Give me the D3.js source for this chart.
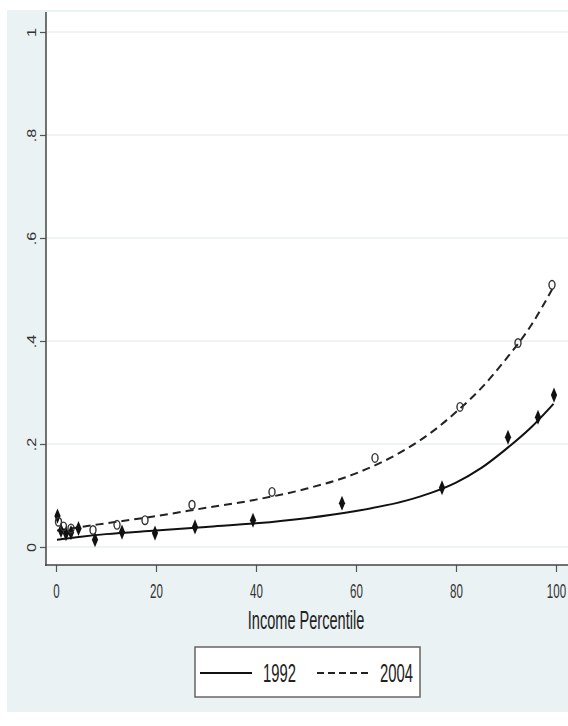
<!DOCTYPE html>
<html><head><meta charset="utf-8">
<script src="https://cdn.jsdelivr.net/npm/d3@7"></script>
<style>body{margin:0;background:#fff}svg{display:block}</style>
</head><body>
<svg id="c" width="568" height="726"></svg>
<script>
// ---- data ----
const pts1992X = [0.3, 1, 2, 3, 4.5, 7.8, 13.2, 19.8, 27.8, 39.4, 57.2, 77.2, 90.4, 96.4, 99.6];
const pts1992Y = [0.060, 0.032, 0.026, 0.028, 0.036, 0.014, 0.029, 0.027, 0.039, 0.052, 0.085, 0.115, 0.213, 0.252, 0.295];
const pts2004X = [0.5, 1.5, 3, 7.4, 12.2, 17.8, 27.2, 43.2, 63.8, 80.8, 92.4, 99.2];
const pts2004Y = [0.049, 0.040, 0.036, 0.033, 0.043, 0.052, 0.082, 0.107, 0.173, 0.272, 0.396, 0.509];
const fitX = [0.2, 5, 10, 20, 30, 40, 50, 60, 70, 75, 80, 85, 90, 95, 99.5];
const fit1992 = [0.014, 0.020, 0.025, 0.032, 0.039, 0.046, 0.056, 0.070, 0.090, 0.105, 0.125, 0.153, 0.190, 0.232, 0.278];
const fit2004 = [0.032, 0.039, 0.046, 0.060, 0.076, 0.092, 0.113, 0.143, 0.190, 0.222, 0.262, 0.308, 0.365, 0.430, 0.505];
const xTicks = [0, 20, 40, 60, 80, 100];
const yTicks = [0, 0.2, 0.4, 0.6, 0.8, 1];
const yTickLabels = ["0", ".2", ".4", ".6", ".8", "1"];
const seriesNames = ["1992", "2004"];
const xTitle = "Income Percentile";

const svg = d3.select("#c");
const FONT = "'Liberation Sans', Arial, sans-serif";

// backgrounds
svg.append("rect").attr("x", 7).attr("y", 10).attr("width", 561).attr("height", 702).attr("fill", "#eaf2f3");
svg.append("rect").attr("x", 46).attr("y", 12).attr("width", 522).attr("height", 553).attr("fill", "#ffffff");

const x = d3.scaleLinear().domain([0, 100]).range([56, 556]);
const y = d3.scaleLinear().domain([0, 1]).range([547, 32]);

// gridlines
svg.append("g").selectAll("line").data(yTicks).join("line")
  .attr("x1", 47).attr("x2", 568)
  .attr("y1", d => y(d)).attr("y2", d => y(d))
  .attr("stroke", "#eaeff0").attr("stroke-width", 1.5);

// axes
const yAxis = d3.axisLeft(y).tickValues(yTicks).tickSize(6).tickFormat((d, i) => yTickLabels[i]);
const gy = svg.append("g").attr("transform", "translate(46,0)").call(yAxis);
gy.select(".domain").remove();
gy.selectAll(".tick line").attr("stroke", "#555").attr("stroke-width", 1.2);
gy.selectAll(".tick text").remove();
gy.selectAll(".tick").append("text")
  .attr("transform", "translate(-10,0) rotate(-90) scale(0.95,0.72)")
  .attr("text-anchor", "middle")
  .attr("fill", "#333").attr("font-family", FONT).attr("font-size", 17)
  .text((d, i) => yTickLabels[i]);

const xAxis = d3.axisBottom(x).tickValues(xTicks).tickSize(7).tickFormat(d3.format("d"));
const gx = svg.append("g").attr("transform", "translate(0,565)").call(xAxis);
gx.select(".domain").remove();
gx.selectAll(".tick line").attr("stroke", "#555").attr("stroke-width", 1.2);
gx.selectAll(".tick text").remove();
gx.selectAll(".tick").append("text")
  .attr("transform", "translate(0,33) scale(0.55,1)")
  .attr("text-anchor", "middle")
  .attr("fill", "#333").attr("font-family", FONT).attr("font-size", 21)
  .text(d => d);

svg.append("line").attr("x1", 46).attr("x2", 46).attr("y1", 12).attr("y2", 566)
  .attr("stroke", "#444").attr("stroke-width", 1.5);
svg.append("line").attr("x1", 45).attr("x2", 568).attr("y1", 565).attr("y2", 565)
  .attr("stroke", "#444").attr("stroke-width", 1.5);

svg.append("text")
  .attr("transform", "translate(306,629) scale(0.56,1)")
  .attr("text-anchor", "middle").attr("fill", "#222")
  .attr("font-family", FONT).attr("font-size", 26).text(xTitle);

// fit lines
const line = d3.line().x(d => x(d[0])).y(d => y(d[1])).curve(d3.curveMonotoneX);
svg.append("path").datum(fitX.map((v, i) => [v, fit1992[i]]))
  .attr("d", line).attr("fill", "none").attr("stroke", "#111").attr("stroke-width", 2);
svg.append("path").datum(fitX.map((v, i) => [v, fit2004[i]]))
  .attr("d", line).attr("fill", "none").attr("stroke", "#222").attr("stroke-width", 2)
  .attr("stroke-dasharray", "8,5");

// markers
const diamond = d3.symbol().type(d3.symbolDiamond).size(60);
svg.append("g").selectAll("path").data(pts1992X.map((v, i) => [v, pts1992Y[i]])).join("path")
  .attr("d", diamond)
  .attr("transform", d => "translate(" + x(d[0]) + "," + y(d[1]) + ") scale(0.75,1.05)")
  .attr("fill", "#111");
svg.append("g").selectAll("ellipse").data(pts2004X.map((v, i) => [v, pts2004Y[i]])).join("ellipse")
  .attr("cx", d => x(d[0])).attr("cy", d => y(d[1]))
  .attr("rx", 3).attr("ry", 4.3)
  .attr("fill", "none").attr("stroke", "#333").attr("stroke-width", 1.4);

// legend
const lg = svg.append("g");
lg.append("rect").attr("x", 195).attr("y", 647).attr("width", 225).attr("height", 50)
  .attr("fill", "#fff").attr("stroke", "#666").attr("stroke-width", 1.5);
lg.append("line").attr("x1", 200).attr("x2", 252).attr("y1", 673).attr("y2", 673)
  .attr("stroke", "#111").attr("stroke-width", 2);
lg.append("line").attr("x1", 317).attr("x2", 371).attr("y1", 673).attr("y2", 673)
  .attr("stroke", "#222").attr("stroke-width", 2).attr("stroke-dasharray", "7,4");
lg.append("text").attr("transform", "translate(263,682) scale(0.57,1)")
  .attr("fill", "#222").attr("font-family", FONT).attr("font-size", 26).text(seriesNames[0]);
lg.append("text").attr("transform", "translate(380,682) scale(0.57,1)")
  .attr("fill", "#222").attr("font-family", FONT).attr("font-size", 26).text(seriesNames[1]);
</script>
</body></html>
